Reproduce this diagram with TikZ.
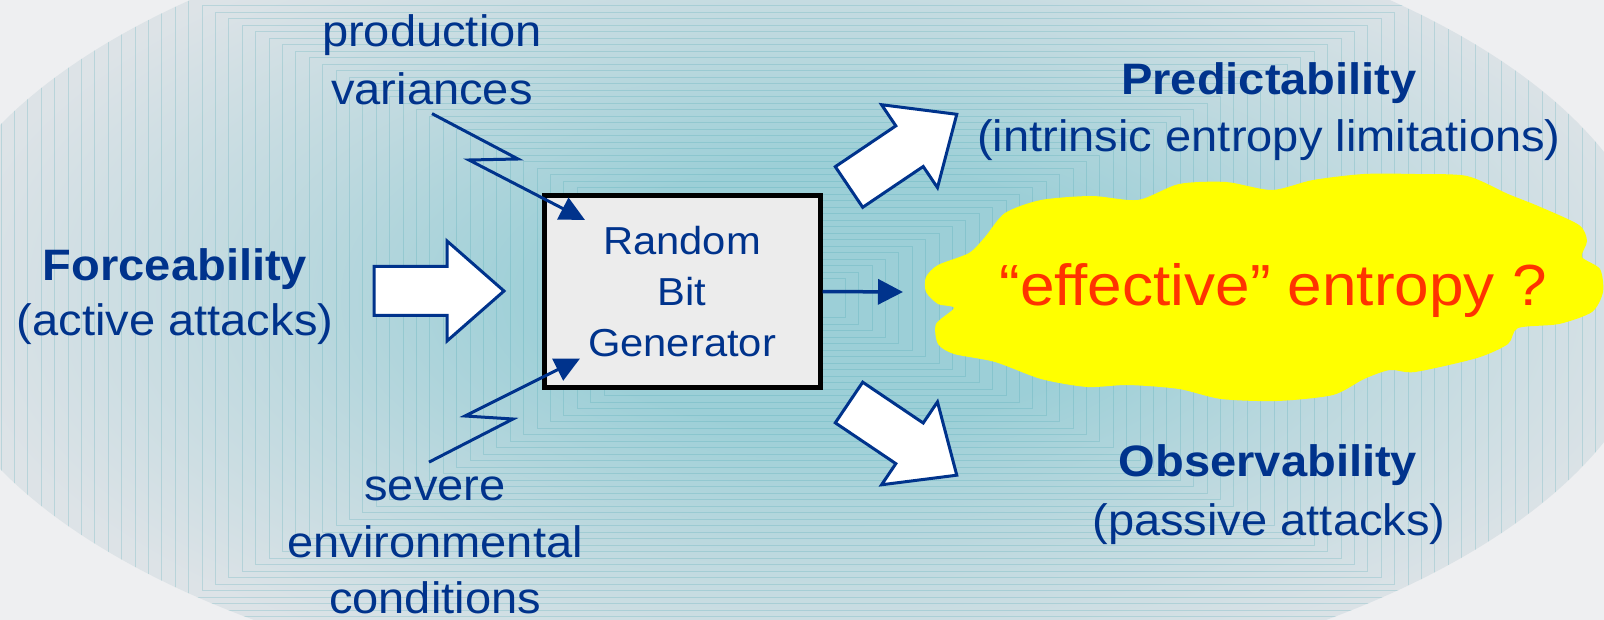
\documentclass[tikz,border=0pt]{standalone}
\usepackage{fontspec}
\setmainfont{Liberation Sans}[FakeStretch=1.07]
\usetikzlibrary{arrows.meta,calc}

\definecolor{navy}{RGB}{0,51,140}
\definecolor{hotred}{RGB}{255,51,0}
\definecolor{cloudyellow}{RGB}{255,255,0}
\definecolor{boxgrey}{RGB}{236,236,236}
\definecolor{paper}{RGB}{238,239,241}
\definecolor{tealc}{RGB}{156,207,215}
\definecolor{midc}{RGB}{190,217,223}
\definecolor{edgec}{RGB}{221,227,231}
\definecolor{trace}{RGB}{60,160,172}

\pgfdeclareradialshading{glow}{\pgfpoint{1.5bp}{0bp}}{color(0bp)=(tealc); color(8bp)=(tealc); color(16bp)=(midc); color(25bp)=(edgec); color(50bp)=(edgec)}

\tikzset{
  lbl/.style={text=navy, inner sep=0pt, anchor=base, font=\fontsize{44}{57}\selectfont},
  hdr/.style={lbl, font=\fontsize{44}{57}\selectfont\bfseries},
  bolt/.style={draw=navy, line width=3pt, line join=miter, -{Triangle[length=25pt,width=24pt]}},
  blockline/.style={draw=navy, fill=white, line width=3pt, line join=miter},
  blockarrow/.pic={
    \path[blockline] (0,-24.5) -- (73,-24.5) -- (73,-50) -- (130,0) -- (73,50) -- (73,24.5) -- (0,24.5) -- cycle;
  },
}

\begin{document}
\begin{tikzpicture}[x=1pt,y=-1pt]
\useasboundingbox (0,0) rectangle (1604,620);

% backdrop: pale page with a shaded oval and nested circuit traces
\fill[paper] (0,0) rectangle (1604,620);
\shade[shading=glow] (790,297) ellipse [x radius=870pt, y radius=410pt];
\begin{scope}
  \clip (790,297) ellipse [x radius=870pt, y radius=410pt];
  \foreach \k in {3,...,72}
    \draw[trace, opacity=.22, line width=.8pt]
      ({805-13.4*\k},{298-6.5*\k}) rectangle ({805+13.4*\k},{298+6.5*\k});
\end{scope}

% the generator block
\node[draw=black, line width=5pt, fill=boxgrey, minimum width=276pt, minimum height=191pt,
      inner sep=0pt, align=center, text=navy, font=\fontsize{39}{51}\selectfont]
  (rbg) at (682,291.5) {Random\\Bit\\Generator};

% influences and properties
\node[lbl] (prod) at (432,46.6) {production};
\node[lbl] (var)  at (432,105) {variances};

\node[hdr] (force) at (175,281) {Forceability};
\node[lbl] (active) at (175,336) {(active attacks)};

\node[hdr] (pred) at (1269,95) {Predictability};
\node[lbl] (intr) at (1269,152) {(intrinsic entropy limitations)};

\node[hdr] (obs) at (1268,476) {Observability};
\node[lbl] (passive) at (1269,535) {(passive attacks)};

\node[lbl] (sev) at (435,500) {severe};
\node[lbl] (env) at (435,557) {environmental};
\node[lbl] (cond) at (435,613) {conditions};

% the entropy cloud
\fill[cloudyellow] plot[smooth cycle, tension=0.45] coordinates {
  (985,237) (1005,213) (1041,200) (1092,196) (1138,200) (1179,184) (1226,182)
  (1272,190) (1313,180) (1364,174) (1415,174) (1467,176) (1508,194) (1538,206)
  (1579,225) (1587,241) (1582,257) (1600,269) (1603,292) (1592,312) (1559,324)
  (1518,328) (1508,344) (1477,358) (1415,372) (1390,370) (1364,379) (1333,395)
  (1277,401) (1221,399) (1179,389) (1128,385) (1087,387) (1041,379) (995,362)
  (954,354) (938,344) (936,324) (954,308) (938,304) (926,292) (926,277)
  (938,265) (969,253)};
\node[text=hotred, inner sep=0pt, anchor=base, font=\fontsize{58}{70}\selectfont]
  (eff) at (1273,306) {“effective” entropy ?};

% output arrow
\coordinate (aim) at (903,292);
\draw[navy, line width=3.5pt, -{Triangle[length=25pt,width=25pt]}] (rbg.east) -- (aim);

% block arrows
\pic at (374,291) {blockarrow};
\pic[rotate=34] at (849,187) {blockarrow};
\pic[rotate=-34] at (849,402.5) {blockarrow};

% lightning arrows into the generator
\draw[bolt] ($(var.south)+(0,8)$) -- (518,159) -- (469,160) -- ($(rbg.north west)+(43.5,26.5)$);
\draw[bolt] ($(sev.north)+(-6,-14)$) -- (513,419) -- (465,416) -- ($(rbg.south west)+(38.5,-31)$);
\end{tikzpicture}
\end{document}
